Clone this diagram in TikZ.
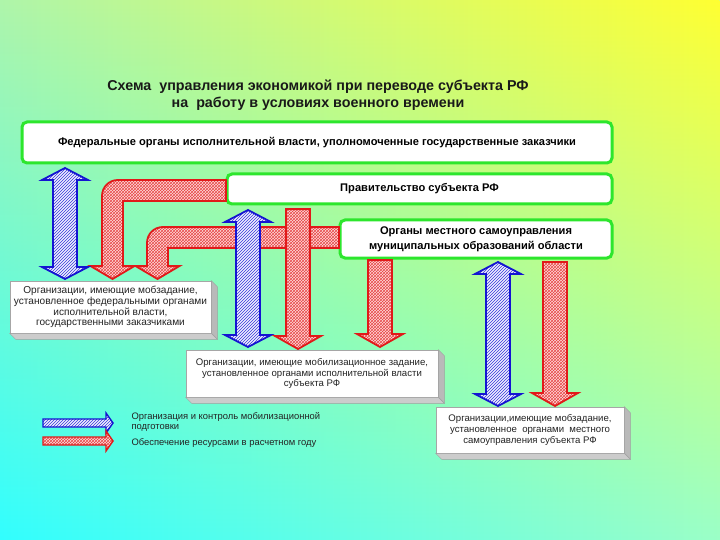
\documentclass[tikz,border=0pt]{standalone}
\usepackage{fontspec}
\setmainfont{Liberation Sans}
\usetikzlibrary{patterns,fadings}
\definecolor{gborder}{RGB}{45,230,45}
\definecolor{bluebrd}{RGB}{20,20,210}
\definecolor{redbrd}{RGB}{225,25,25}
\definecolor{txt}{RGB}{35,35,35}
\definecolor{bgTL}{RGB}{175,245,170}
\definecolor{bgTR}{RGB}{255,255,50}
\definecolor{bgBL}{RGB}{50,255,255}
\definecolor{bgBR}{RGB}{155,255,200}
\tikzset{
  gbox/.style={draw=gborder, line width=3, fill=white, rounded corners=5, inner sep=2,
    font=\bfseries\fontsize{11.1}{15}\selectfont, align=center},
  obox/.style={draw=gray!70, line width=0.6, fill=white, inner sep=2, text=txt,
    font=\fontsize{9.6}{10.8}\selectfont, align=center},
  bluearr/.style={preaction={fill=blue!7}, pattern=north east lines, pattern color=bluebrd!85,
    draw=bluebrd, line width=1.8, line join=miter},
  redarr/.style={preaction={fill=red!14}, pattern=crosshatch, pattern color=redbrd!80,
    draw=redbrd, line width=1.8, line join=miter},
  shadowr/.style={fill=gray!55, draw=gray!75, line width=0.4},
  shadowb/.style={fill=gray!40, draw=gray!75, line width=0.4},
  legtext/.style={text=txt, font=\fontsize{9.4}{10.8}\selectfont, align=left, anchor=west}
}
% vertical double arrow: centre x, top y, bottom y
\newcommand{\dblarrowV}[3]{%
  \draw[bluearr] (#1,#2) -- ({#1+23},{#2+12}) -- ({#1+12},{#2+12}) -- ({#1+12},{#3-12})
    -- ({#1+23},{#3-12}) -- (#1,#3) -- ({#1-23},{#3-12}) -- ({#1-12},{#3-12})
    -- ({#1-12},{#2+12}) -- ({#1-23},{#2+12}) -- cycle;}
% vertical down arrow: centre x, top y, bottom y
\newcommand{\downarrowV}[3]{%
  \draw[redarr] ({#1-12},#2) -- ({#1+12},#2) -- ({#1+12},{#3-13}) -- ({#1+23},{#3-13})
    -- (#1,#3) -- ({#1-23},{#3-13}) -- ({#1-12},{#3-13}) -- cycle;}
% shadow of a box node
\newcommand{\boxshadow}[1]{%
  \draw[shadowr] (#1.north east) -- ++(6,6) -- ([shift={(6,6)}]#1.south east) -- (#1.south east) -- cycle;
  \draw[shadowb] (#1.south west) -- ([shift={(6,6)}]#1.south west) -- ([shift={(6,6)}]#1.south east) -- (#1.south east) -- cycle;}
\begin{document}
\begin{tikzpicture}[x=1pt,y=-1pt]
\useasboundingbox (0,0) rectangle (720,540);
\begin{scope}[y=1pt]
  \shade[left color=bgBL, right color=bgBR] (0,-540) rectangle (720,0);
  \shade[left color=bgTL, right color=bgTR, path fading=south] (0,-540) rectangle (720,0);
\end{scope}

% title
\node[font=\bfseries\fontsize{14.3}{16.5}\selectfont, align=center, text=black!90] (title) at (318,95)
  {Схема\ \ управления экономикой при переводе субъекта РФ\\на\ \ работу в условиях военного времени};

% green boxes
\node[gbox, minimum width=590, minimum height=41] (fed) at (317,142.5)
  {Федеральные органы исполнительной власти, уполномоченные государственные заказчики};
\node[gbox, minimum width=385, minimum height=30] (gov) at (419.5,189) {Правительство субъекта РФ};
\node[gbox, minimum width=272, minimum height=38] (loc) at (476,239)
  {Органы местного самоуправления\\муниципальных образований области};

% red L arrows
\draw[redarr] (226,180) -- (118,180) .. controls (109,180) and (102,187) .. (102,196)
  -- (102,266) -- (90.5,266) -- (112.5,279) -- (134.5,266) -- (123,266) -- (123,201) -- (226,201) -- cycle;
\draw[redarr] (339,227) -- (163,227) .. controls (154,227) and (147,234) .. (147,243)
  -- (147,266) -- (135.5,266) -- (157.5,279) -- (179.5,266) -- (168,266) -- (168,248) -- (339,248) -- cycle;

% vertical arrows
\dblarrowV{65}{168}{279}
\dblarrowV{248}{210}{347}
\downarrowV{298}{209}{349}
\downarrowV{380}{260}{347}
\dblarrowV{498}{262}{406}
\downarrowV{555}{262}{406}

% organisation boxes
\node[obox, minimum width=201, minimum height=52, font=\fontsize{10.1}{10.8}\selectfont] (orgF) at (110.5,307)
  {Организации, имеющие мобзадание,\\установленное федеральными органами\\исполнительной власти,\\государственными заказчиками};
\boxshadow{orgF}
\node[obox, minimum width=252, minimum height=47] (orgS) at (312,373.5)
  {Организации, имеющие мобилизационное задание,\\установленное органами исполнительной власти\\субъекта РФ};
\boxshadow{orgS}
\node[obox, minimum width=188, minimum height=46] (orgM) at (530,430)
  {Организации,имеющие мобзадание,\\установленное\ \ органами\ \ местного\\самоуправления субъекта РФ};
\boxshadow{orgM}

% legend
\draw[bluearr, line width=1.4] (43,419) -- (106,419) -- (106,413) -- (113,423) -- (106,433) -- (106,427) -- (43,427) -- cycle;
\draw[redarr, line width=1.4] (43,437) -- (106,437) -- (106,431) -- (113,441) -- (106,451) -- (106,445) -- (43,445) -- cycle;
\node[legtext] (leg1) at (128,422) {Организация и контроль мобилизационной\\подготовки};
\node[legtext] (leg2) at (128,443) {Обеспечение ресурсами в расчетном году};
\end{tikzpicture}
\end{document}
